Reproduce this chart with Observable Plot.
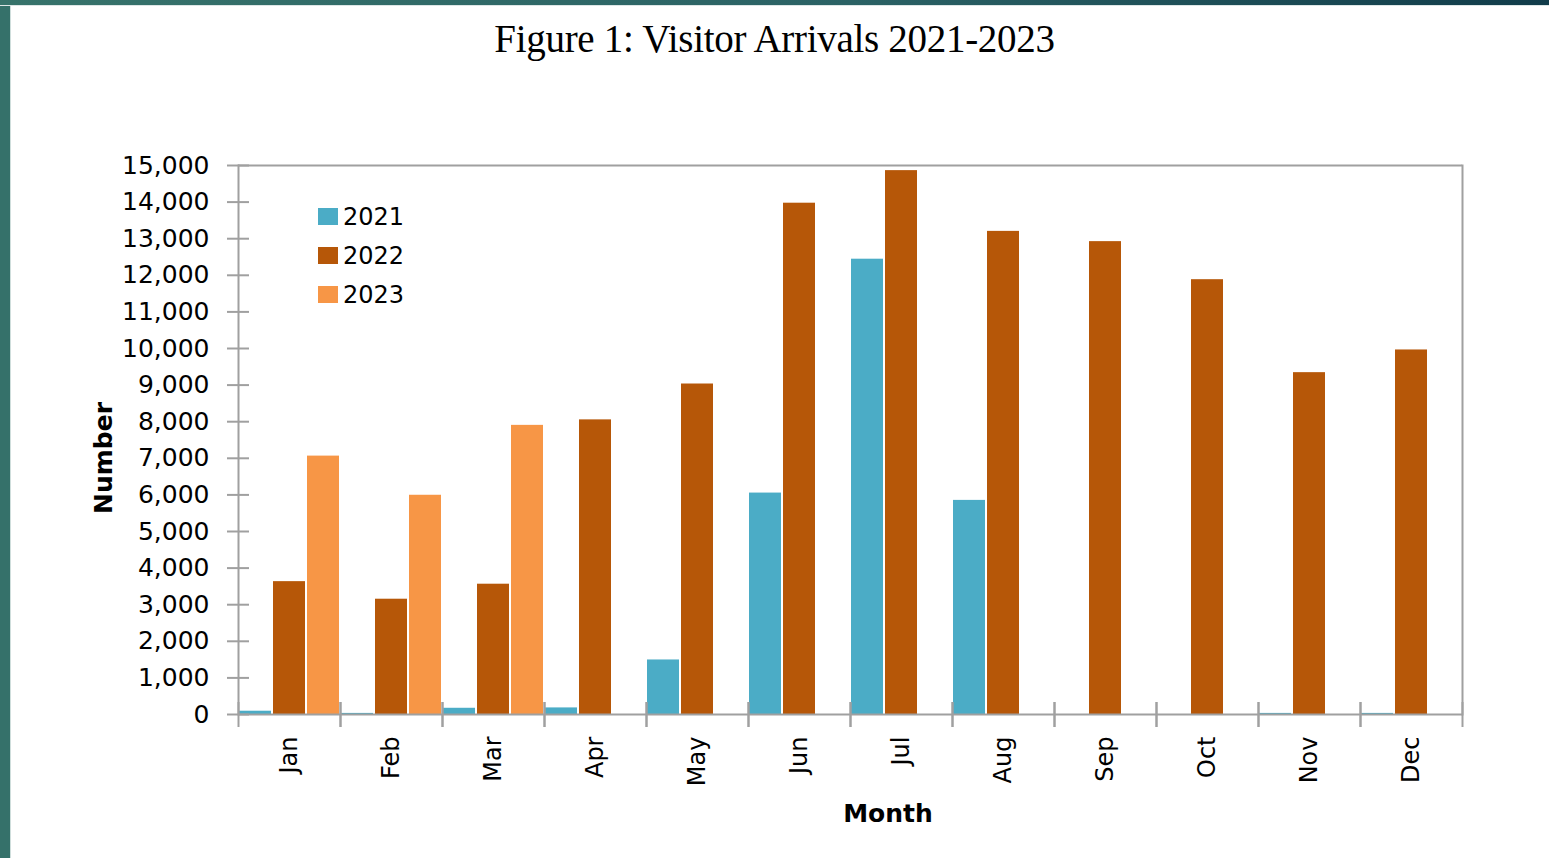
<!DOCTYPE html>
<html>
<head>
<meta charset="utf-8">
<script src="https://cdn.jsdelivr.net/npm/d3@7"></script>
<script src="https://cdn.jsdelivr.net/npm/@observablehq/plot@0.6"></script>
<style>
  html, body { margin: 0; padding: 0; background: #fff; width: 1549px; height: 858px; overflow: hidden; }
  #wrap { position: relative; width: 1549px; height: 858px; background: #fff; }
  #bl { position: absolute; left: 0; top: 0; width: 10px; height: 858px; background: #35716a; border-right: 1px solid #cfdedc; }
  #bt { position: absolute; left: 0; top: 0; width: 1549px; height: 5px; background: linear-gradient(to right, #37736b, #2b6265 55%, #113c4a); border-bottom: 1px solid #dde6e6; }
  #title { position: absolute; top: 16px; left: 0; width: 1549px; text-align: center; font-family: "Liberation Serif", serif; font-size: 39px; color: #000; line-height: 46px; letter-spacing: -0.3px; }
  #chart { position: absolute; left: 0; top: 90px; }
  #legend { position: absolute; left: 318px; top: 197px; font-family: "DejaVu Sans", sans-serif; font-size: 24px; color: #000; }
  .item { display: flex; align-items: center; height: 39px; }
  .sw { width: 20px; height: 17px; margin-right: 5px; }
  .axlab { position: absolute; font-family: "DejaVu Sans", sans-serif; font-weight: bold; font-size: 25px; color: #000; white-space: nowrap; transform: translate(-50%, -50%); }
  #ylab { left: 103px; top: 458px; transform: translate(-50%, -50%) rotate(-90deg); }
  #xlab { left: 888px; top: 813px; }
</style>
</head>
<body>
<div id="wrap">
  <div id="bl"></div>
  <div id="bt"></div>
  <div id="title">Figure 1: Visitor Arrivals 2021-2023</div>
  <div id="chart"></div>
  <div id="legend"></div>
  <div class="axlab" id="ylab">Number</div>
  <div class="axlab" id="xlab">Month</div>
</div>
<script>
// ---- data ----
const months = ["Jan", "Feb", "Mar", "Apr", "May", "Jun", "Jul", "Aug", "Sep", "Oct", "Nov", "Dec"];
const years = ["2021", "2022", "2023"];
const arrivals2021 = [90, 30, 170, 180, 1490, 6050, 12440, 5850, 0, 0, 30, 30];
const arrivals2022 = [3630, 3150, 3560, 8050, 9030, 13970, 14860, 13200, 12920, 11880, 9340, 9960];
const arrivals2023 = [7060, 5990, 7900, null, null, null, null, null, null, null, null, null];
const yTicks = [0, 1000, 2000, 3000, 4000, 5000, 6000, 7000, 8000, 9000, 10000, 11000, 12000, 13000, 14000, 15000];
const colors = ["#4bacc6", "#b65708", "#f79646"];

const series = [arrivals2021, arrivals2022, arrivals2023];
const data = months.flatMap((m, i) =>
  years.map((y, j) => ({month: m, year: y, value: series[j][i]}))
).filter(d => d.value != null);

// ---- layout ----
const W = 1549, H = 768, ML = 238, MR = 87, MT = 75, MB = 144;
const bw = (W - ML - MR) / months.length;
const grey = "#a0a0a0";

const chart = Plot.plot({
  width: W,
  height: H,
  marginLeft: ML,
  marginRight: MR,
  marginTop: MT,
  marginBottom: MB,
  style: {fontFamily: "DejaVu Sans, sans-serif", fontSize: "25px", color: "#000", background: "transparent"},
  fx: {domain: months, padding: 0, label: null},
  x: {domain: years, paddingInner: 0.05, paddingOuter: 0.01, axis: null},
  y: {domain: [0, 15000], label: null},
  color: {domain: years, range: colors},
  marks: [
    Plot.barY(data, {fx: "month", x: "year", y: "value", fill: "year"}),
    Plot.ruleY([0, 15000], {stroke: grey, strokeWidth: 2}),
    Plot.frame({anchor: "left", facetAnchor: "left", stroke: grey, strokeWidth: 2}),
    Plot.frame({anchor: "right", facetAnchor: "right", stroke: grey, strokeWidth: 2}),
    Plot.axisY({ticks: yTicks, tickSize: 22, dx: 11, tickFormat: () => "", label: null, stroke: grey, strokeWidth: 2}),
    Plot.axisY({ticks: yTicks, tickSize: 0, tickPadding: 29, tickFormat: d3.format(","), label: null, fontSize: 25}),
    Plot.axisFx({anchor: "bottom", tickSize: 0, tickRotate: -90, tickPadding: 22, fontSize: 24, label: null}),
    Plot.axisFx({anchor: "bottom", tickSize: 25, dx: -bw / 2, dy: -12, tickFormat: () => "", label: null, stroke: grey, strokeWidth: 2}),
    Plot.axisFx({anchor: "bottom", tickSize: 25, dx: bw / 2, dy: -12, tickFormat: () => "", label: null, stroke: grey, strokeWidth: 2})
  ]
});
document.getElementById("chart").appendChild(chart);

// ---- legend ----
const legend = document.getElementById("legend");
years.forEach((y, i) => {
  const item = document.createElement("div");
  item.className = "item";
  const sw = document.createElement("div");
  sw.className = "sw";
  sw.style.background = colors[i];
  const label = document.createElement("span");
  label.textContent = y;
  item.appendChild(sw);
  item.appendChild(label);
  legend.appendChild(item);
});
</script>
</body>
</html>
